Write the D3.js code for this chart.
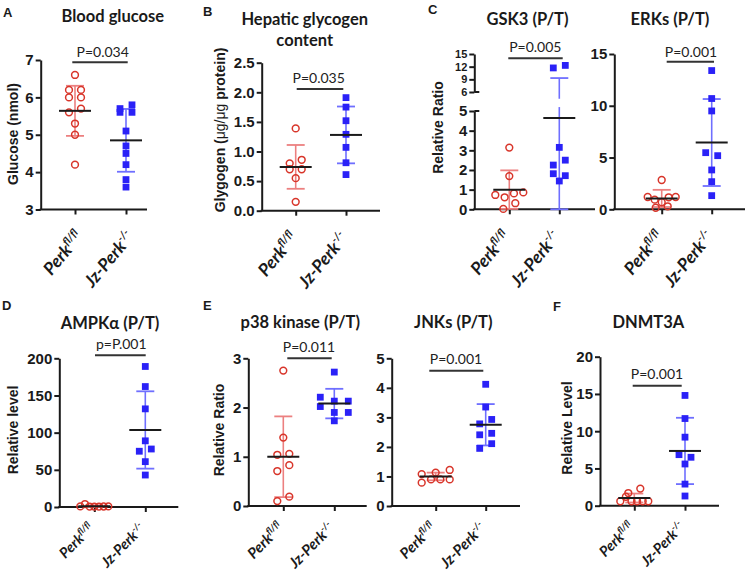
<!DOCTYPE html>
<html><head><meta charset="utf-8">
<script src="https://cdn.jsdelivr.net/npm/d3@7/dist/d3.min.js"></script>
<style>body{margin:0;background:#fff} svg{display:block}</style>
</head><body>
<svg id="c" width="748" height="573"></svg>
<script>
// ---------------- DATA ----------------
const categories = ["Perk", "Jz-Perk"];
const categorySup = ["fl/fl", "-/-"];
const panelLetters = ["A", "B", "C", "D", "E", "F"];
const titles = [["Blood glucose"], ["Hepatic glycogen", "content"], ["GSK3 (P/T)"], ["ERKs (P/T)"],
                ["AMPKα (P/T)"], ["p38 kinase (P/T)"], ["JNKs (P/T)"], ["DNMT3A"]];
const yLabels = ["Glucose (nmol)", "Glygogen (|μg/μg| protein)", "Relative Ratio", "",
                 "Relative level", "Relative Ratio", "", "Relative Level"];
const pLabels = ["P=0.034", "P=0.035", "P=0.005", "P=0.001", "p=P.001", "P=0.011", "P=0.001", "P=0.001"];

const glucosePerk = [6.6, 6.2, 6.2, 6.0, 6.0, 5.6, 5.7, 5.3, 5.0, 4.2];
const glucoseJz   = [5.6, 5.7, 5.8, 5.6, 5.1, 4.7, 4.5, 4.2, 3.8, 3.6];
const glucoseMean = [5.64, 4.85];
const glucoseSD   = [0.67, 0.84];
const glucoseTicks = [3, 4, 5, 6, 7];

const glycogenPerk = [1.39, 0.80, 0.86, 0.70, 0.70, 0.55, 0.15];
const glycogenJz   = [1.91, 1.75, 1.52, 1.29, 1.07, 0.81, 0.61];
const glycogenMean = [0.74, 1.28];
const glycogenSD   = [0.37, 0.48];
const glycogenTicks = [0, 0.5, 1, 1.5, 2, 2.5];

const gsk3Perk = [3.14, 1.69, 0.73, 0.61, 0.02, 0.81, 0.31, 0.86];
const gsk3Jz   = [11.7, 12.3, 3.15, 2.25, 2.5, 1.81, 1.71, 1.44];
const gsk3Mean = [1.0, 4.65];
const gsk3SD   = [0.98, 4.65];
const gsk3TicksLow  = [0, 1, 2, 3, 4, 5];
const gsk3TicksHigh = [6, 9, 12, 15];

const erkPerk = [2.83, 1.19, 0.93, 0.68, 1.16, 1.19, 0.15, 0.29];
const erkJz   = [13.4, 10.7, 9.5, 5.47, 5.18, 3.8, 2.67, 1.32];
const erkMean = [1.05, 6.45];
const erkSD   = [0.83, 4.2];
const erkTicks = [0, 5, 10, 15];

const ampkPerk = [0.8, 4.0, 0.6, 0.5, 0.6, 0.7, 0.8];
const ampkJz   = [189, 162, 132, 89, 75, 78, 61, 43];
const ampkMean = [1.1, 103.6];
const ampkSD   = [1.2, 52];
const ampkTicks = [0, 50, 100, 150, 200];

const p38Perk = [2.75, 1.39, 1.04, 1.06, 0.71, 0.83, 0.10, 0.19];
const p38Jz   = [2.72, 2.21, 2.13, 2.13, 2.02, 1.90, 1.90, 1.73];
const p38Mean = [1.0, 2.08];
const p38SD   = [0.82, 0.30];
const p38Ticks = [0, 1, 2, 3];

const jnkPerk = [1.08, 0.79, 0.90, 1.13, 0.90, 1.22, 0.90];
const jnkJz   = [4.12, 3.35, 2.78, 2.93, 2.41, 2.46, 1.95, 2.11];
const jnkMean = [1.0, 2.75];
const jnkSD   = [0.13, 0.70];
const jnkTicks = [0, 1, 2, 3, 4, 5];

const dnmtPerk = [1.7, 2.3, 0.6, 1.2, 0.6, 0.6, 0.6, 0.6];
const dnmtJz   = [14.8, 11.7, 9.2, 6.85, 6.5, 5.6, 2.9, 1.3];
const dnmtMean = [1.03, 7.35];
const dnmtSD   = [0.60, 4.45];
const dnmtTicks = [0, 5, 10, 15, 20];

// ---------------- STYLE ----------------
const svg = d3.select("#c");
const FONT_AX = "'Liberation Sans', Arial, sans-serif";
const FONT_T = "Lato, 'Open Sans', sans-serif";
const RED = "#d8352a", BLUE = "#2a21f7", RED_E = "#ec8080", BLUE_E = "#6f6fff", INK = "#1a1a1a";

function rowOffsets(vals, yf, tol) {
  const idx = vals.map((v, i) => i).sort((a, b) => vals[b] - vals[a] || a - b);
  const off = new Array(vals.length).fill(0);
  const rows = []; let cur = null;
  idx.forEach(i => {
    const y = yf(vals[i]);
    if (cur && Math.abs(y - cur.y0) <= tol) cur.m.push(i);
    else { cur = { y0: y, m: [i] }; rows.push(cur); }
  });
  rows.forEach(r => {
    r.m.sort((a, b) => a - b);
    const n = r.m.length;
    const sp = n === 1 ? 0 : (n === 2 ? 12 : 28 / (n - 1));
    r.m.forEach((i, k) => off[i] = (k - (n - 1) / 2) * sp);
  });
  return off;
}

function drawPanel(p) {
  const g = svg.append("g");
  const segs = p.segs.map(s => Object.assign({}, s, { scale: d3.scaleLinear().domain(s.domain).range(s.range) }));
  const segOf = v => segs.find(s => v >= s.lo && v <= s.hi) || segs[0];
  const yPos = v => segOf(v).scale(v);
  const y0 = segs[0].range[0];
  const x = d3.scalePoint().domain(categories).range(p.gx);

  // axes
  segs.forEach(s => {
    const ax = g.append("g").attr("transform", `translate(${p.ax},0)`)
      .call(d3.axisLeft(s.scale).tickValues(s.ticks).tickSize(5).tickPadding(2).tickSizeOuter(0)
        .tickFormat(p.fmt ? d3.format(p.fmt) : d3.format("d")));
    ax.select(".domain").attr("stroke", INK).attr("stroke-width", 2);
    ax.selectAll(".tick line").attr("stroke", INK).attr("stroke-width", 2);
    ax.selectAll("text").attr("fill", INK).style("font-family", FONT_AX).style("font-weight", "bold")
      .style("font-size", (s.fontSize || 15) + "px");
    if (s.cap) {
      g.append("line").attr("x1", p.ax).attr("x2", p.ax + 5).attr("y1", s.scale(s.cap)).attr("y2", s.scale(s.cap))
        .attr("stroke", INK).attr("stroke-width", 2);
    }
  });
  const xa = g.append("g").attr("transform", `translate(0,${y0})`)
    .call(d3.axisBottom(x).tickSize(5).tickSizeOuter(0).tickFormat(""));
  xa.select(".domain").remove();
  xa.selectAll(".tick line").attr("stroke", INK).attr("stroke-width", 2);
  g.append("line").attr("x1", p.ax - 1).attr("x2", p.xEnd).attr("y1", y0).attr("y2", y0)
    .attr("stroke", INK).attr("stroke-width", 2);

  // x labels
  const L = p.xl; // [dx, dy, angle, fontSize]
  categories.forEach((c, i) => {
    const t = g.append("text")
      .attr("transform", `translate(${x(c) + L[0]},${y0 + L[1]}) rotate(${-L[2]})`)
      .attr("text-anchor", "end").attr("fill", INK)
      .style("font-family", FONT_T).style("font-weight", "bold").style("font-style", "italic").style("font-size", L[3] + "px");
    t.append("tspan").text(c);
    t.append("tspan").attr("dy", -0.4 * L[3]).style("font-size", (0.63 * L[3]) + "px").text(categorySup[i]);
  });

  // error bars + means
  const colsE = [RED_E, BLUE_E];
  categories.forEach((c, i) => {
    const cx = x(c), m = p.mean[i], sd = p.sd[i];
    const top = m + sd, bot = Math.max(m - sd, segs[0].domain[0]);
    segs.forEach(s => {
      const lo = Math.max(bot, s.vmin), hi = Math.min(top, s.vmax);
      if (lo < hi) g.append("line").attr("x1", cx).attr("x2", cx).attr("y1", s.scale(lo)).attr("y2", s.scale(hi))
        .attr("stroke", colsE[i]).attr("stroke-width", 1.6);
    });
    [top, bot].forEach(v => {
      g.append("line").attr("x1", cx - 9).attr("x2", cx + 9).attr("y1", yPos(v)).attr("y2", yPos(v))
        .attr("stroke", colsE[i]).attr("stroke-width", 1.8);
    });
  });

  // points
  const perkOff = rowOffsets(p.perk, yPos, 6.5);
  const jzOff = rowOffsets(p.jz, yPos, 6.5);
  g.selectAll(null).data(p.perk).enter().append("circle")
    .attr("cx", (d, i) => x(categories[0]) + perkOff[i]).attr("cy", d => yPos(d)).attr("r", 3.4)
    .attr("fill", "none").attr("stroke", RED).attr("stroke-width", 1.5);
  g.selectAll(null).data(p.jz).enter().append("rect")
    .attr("x", (d, i) => x(categories[1]) + jzOff[i] - 3.4).attr("y", d => yPos(d) - 3.4)
    .attr("width", 6.8).attr("height", 6.8).attr("fill", BLUE);

  categories.forEach((c, i) => {
    const cx = x(c), ym = yPos(p.mean[i]);
    g.append("line").attr("x1", cx - 16).attr("x2", cx + 16).attr("y1", ym).attr("y2", ym)
      .attr("stroke", INK).attr("stroke-width", 2);
  });

  // significance bar
  g.append("line").attr("x1", p.bar[0]).attr("x2", p.bar[1]).attr("y1", p.bar[2]).attr("y2", p.bar[2])
    .attr("stroke", "#333").attr("stroke-width", 2);
  g.append("text").attr("x", p.pPos[0]).attr("y", p.pPos[1]).attr("text-anchor", "middle").attr("fill", "#222")
    .style("font-family", FONT_T).style("font-size", "14px").text(p.pText);

  // title
  p.title.forEach((t, k) => {
    g.append("text").attr("x", p.tPos[0]).attr("y", p.tPos[1] + k * 21).attr("text-anchor", "middle").attr("fill", INK)
      .style("font-family", FONT_T).style("font-weight", "bold").style("font-size", "16.5px").text(t);
  });

  // y label
  if (p.yLabel) {
    const t = g.append("text").attr("transform", `translate(${p.yLPos[0]},${p.yLPos[1]}) rotate(-90)`)
      .attr("text-anchor", "middle").attr("dy", "0.35em").attr("fill", INK)
      .style("font-family", FONT_AX).style("font-weight", "bold").style("font-size", "14px");
    p.yLabel.split("|").forEach((part, k) => {
      const ts = t.append("tspan").text(part);
      if (k === 1) ts.style("font-weight", "normal");
    });
  }
  if (p.letter) {
    svg.append("text").attr("x", p.letter[1]).attr("y", p.letter[2]).attr("fill", INK)
      .style("font-family", FONT_AX).style("font-weight", "bold").style("font-size", "13px").text(p.letter[0]);
  }
}

const one = (dom, rng, ticks) => [{ domain: dom, range: rng, ticks: ticks, lo: -Infinity, hi: Infinity, vmin: dom[0], vmax: dom[1] }];
const BOT = [0.7, 22.5, 45, 14.5];

const panels = [
  { perk: glucosePerk, jz: glucoseJz, mean: glucoseMean, sd: glucoseSD, ax: 40.7, gx: [75, 126], xEnd: 147, xl: [9, 28, 50, 17.5],
    segs: one([3, 7], [209.5, 60], glucoseTicks), title: titles[0], tPos: [112.8, 22], yLabel: yLabels[0], yLPos: [13, 134],
    pText: pLabels[0], pPos: [102.7, 56.7], bar: [72.3, 127.7, 62.3], letter: [panelLetters[0], 3, 16.7] },
  { perk: glycogenPerk, jz: glycogenJz, mean: glycogenMean, sd: glycogenSD, ax: 261.7, gx: [295.7, 346], xEnd: 380, fmt: ".1f",
    xl: [3, 28, 50, 17.5],
    segs: one([0, 2.5], [210.7, 62.7], glycogenTicks), title: titles[1], tPos: [304.7, 24.5], yLabel: yLabels[1], yLPos: [220, 130],
    pText: pLabels[1], pPos: [318.7, 83.3], bar: [296.7, 343.3, 89], letter: [panelLetters[1], 203, 16.3] },
  { perk: gsk3Perk, jz: gsk3Jz, mean: gsk3Mean, sd: gsk3SD, ax: 474.3, gx: [509.3, 559.3], xEnd: 595, xl: [2, 28, 50, 17.5],
    segs: [
      { domain: [0, 5], range: [209.3, 111], ticks: gsk3TicksLow, lo: -Infinity, hi: 5.5, vmin: 0, vmax: 5.2, cap: 5 },
      { domain: [6, 15], range: [92, 54], ticks: gsk3TicksHigh, lo: 5.5, hi: Infinity, vmin: 4.4, vmax: 15, cap: 6, fontSize: 11 }],
    title: titles[2], tPos: [527.5, 24.5], yLabel: yLabels[2], yLPos: [438, 127.5],
    pText: pLabels[2], pPos: [535.3, 51.7], bar: [508.3, 562.7, 58.3], letter: [panelLetters[2], 428, 14] },
  { perk: erkPerk, jz: erkJz, mean: erkMean, sd: erkSD, ax: 614.3, gx: [661.7, 711.7], xEnd: 745, xl: [3, 28, 50, 17.5],
    segs: one([0, 15], [209.3, 54], erkTicks), title: titles[3], tPos: [670, 24.5], yLabel: null,
    pText: pLabels[3], pPos: [691, 56.7], bar: [666.7, 714, 61.7] },
  { perk: ampkPerk, jz: ampkJz, mean: ampkMean, sd: ampkSD, ax: 59.3, gx: [94.3, 145.3], xEnd: 178.3, xl: BOT,
    segs: one([0, 200], [507, 358.3], ampkTicks), title: titles[4], tPos: [110, 329.3], yLabel: yLabels[4], yLPos: [13.3, 430],
    pText: pLabels[4], pPos: [121.3, 349.3], bar: [95, 145.7, 355.3], letter: [panelLetters[3], 2, 310] },
  { perk: p38Perk, jz: p38Jz, mean: p38Mean, sd: p38SD, ax: 248.3, gx: [283.3, 334.3], xEnd: 366.7, xl: [1, 23, 45, 15],
    segs: one([0, 3], [506, 358.3], p38Ticks), title: titles[5], tPos: [300.3, 328.3], yLabel: yLabels[5], yLPos: [219, 430],
    pText: pLabels[5], pPos: [309, 352.3], bar: [287.3, 331.7, 358.3], letter: [panelLetters[4], 203, 310] },
  { perk: jnkPerk, jz: jnkJz, mean: jnkMean, sd: jnkSD, ax: 391.7, gx: [435.7, 485.7], xEnd: 520, xl: [1, 23, 45, 15],
    segs: one([0, 5], [506, 358.3], jnkTicks), title: titles[6], tPos: [453.3, 328.3], yLabel: null,
    pText: pLabels[6], pPos: [456, 364], bar: [429.3, 483.3, 370.7] },
  { perk: dnmtPerk, jz: dnmtJz, mean: dnmtMean, sd: dnmtSD, ax: 600, gx: [634.3, 685], xEnd: 719, xl: BOT,
    segs: one([0, 20], [505.7, 356.7], dnmtTicks), title: titles[7], tPos: [648.3, 327.7], yLabel: yLabels[7], yLPos: [567.5, 428],
    pText: pLabels[7], pPos: [657, 379.3], bar: [632.7, 681.7, 385.7], letter: [panelLetters[5], 553, 310.7] }
];
panels.forEach(drawPanel);
</script>
</body></html>
